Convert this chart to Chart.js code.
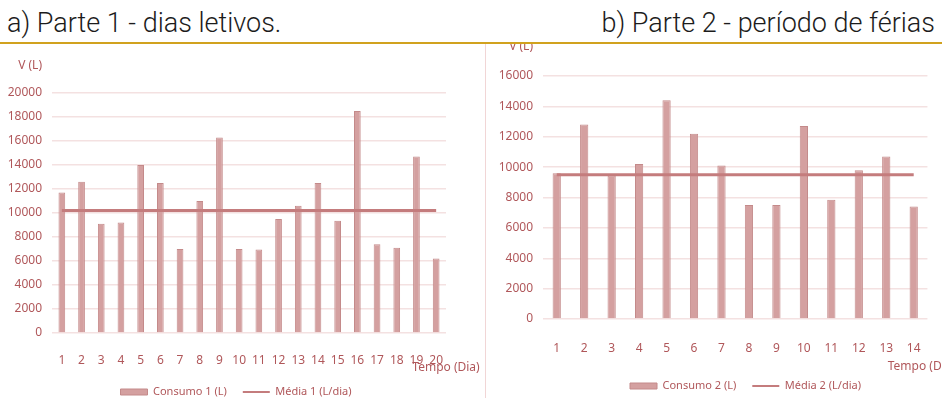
<!DOCTYPE html>
<html>
<head>
<meta charset="utf-8">
<script src="https://cdn.jsdelivr.net/npm/chart.js@4.4.1/dist/chart.umd.min.js"></script>
<style>
    html, body { margin: 0; padding: 0; background: #fff; }
    body { width: 942px; height: 398px; position: relative; overflow: hidden; }
    .titulo {
        position: absolute; top: 10px; line-height: 27px;
        font-family: Roboto, 'Liberation Sans', sans-serif;
        font-weight: 300; font-size: 27px; color: #1c1c1c; white-space: nowrap;
    }
    #regua { position: absolute; left: 0; top: 42px; width: 942px; height: 2px; background: #d1a21e; }
    .painel { position: absolute; top: 44px; height: 354px; }
    #painel1 { left: 0; width: 480px; }
    #painel2 { left: 485px; width: 457px; border-left: 1px solid #f1d6d6; }
</style>
</head>
<body>
<div class="titulo" style="left:7px">a) Parte 1 - dias letivos.</div>
<div class="titulo" style="right:7px">b) Parte 2 - período de férias</div>
<div id="regua"></div>
<div class="painel" id="painel1"><canvas id="grafico1"></canvas></div>
<div class="painel" id="painel2"><canvas id="grafico2"></canvas></div>

<script>
// Parte 1 - dias letivos (20 dias)
const dias1 = ['1','2','3','4','5','6','7','8','9','10','11','12','13','14','15','16','17','18','19','20'];
const consumo1 = [11700, 12600, 9100, 9200, 14000, 12500, 7000, 11000, 16300, 7000,
                  6950, 9500, 10600, 12500, 9350, 18500, 7400, 7100, 14700, 6200];
const media1 = [10200, 10200, 10200, 10200, 10200, 10200, 10200, 10200, 10200, 10200,
                10200, 10200, 10200, 10200, 10200, 10200, 10200, 10200, 10200, 10200];

// Parte 2 - periodo de ferias (14 dias)
const dias2 = ['1','2','3','4','5','6','7','8','9','10','11','12','13','14'];
const consumo2 = [9600, 12800, 9450, 10200, 14400, 12200, 10100, 7500, 7500, 12700, 7850, 9800, 10700, 7400];
const media2 = [9500, 9500, 9500, 9500, 9500, 9500, 9500, 9500, 9500, 9500, 9500, 9500, 9500, 9500];

const COR_BARRA = '#d4a0a0';
const COR_BORDA = '#c48a8a';
const COR_MEDIA = '#c47c7d';
const COR_TEXTO = '#b0575a';
const COR_GRADE = '#f4e1e1';
const FONTE = "'Noto Sans', sans-serif";

// draws the "V (L)" and "Tempo (Dia)" labels next to the axes,
// and nudges the legend sideways (Excel didn't center it on the canvas)
const rotulosEixos = {
    id: 'rotulosEixos',
    afterLayout(chart, args, opts) {
        chart.legend.left += opts.legendaDx;
        chart.legend.right += opts.legendaDx;
    },
    afterDraw(chart, args, opts) {
        const ctx = chart.ctx;
        const area = chart.chartArea;
        const y = chart.scales.y;
        ctx.save();
        ctx.font = '12px ' + FONTE;
        ctx.fillStyle = COR_TEXTO;
        ctx.textBaseline = 'middle';
        ctx.textAlign = 'right';
        ctx.fillText('V (L)', y.right - opts.yRecuo, area.top - opts.yAcima);
        ctx.textAlign = 'center';
        ctx.fillText('Tempo (Dia)', area.right + opts.xDesvio, area.bottom + opts.xAbaixo);
        ctx.restore();
    }
};

function criarGrafico(id, dias, consumo, media, nomes, caixa) {
    const ctx = document.getElementById(id).getContext('2d');
    const chart = new Chart(ctx, {
        type: 'bar',
        data: {
            labels: dias,
            datasets: [{
                label: nomes[0],
                data: consumo,
                backgroundColor: COR_BARRA,
                borderColor: COR_BORDA,
                borderWidth: 1,
                categoryPercentage: 1,
                barPercentage: caixa.barra,
                pointStyle: 'rect',
                order: 2
            }, {
                type: 'line',
                label: nomes[1],
                data: media,
                borderColor: COR_MEDIA,
                borderWidth: 3,
                pointRadius: 0,
                pointStyle: 'line',
                pointBorderColor: COR_MEDIA,
                pointBorderWidth: 2,
                backgroundColor: COR_MEDIA,
                order: 1   // mean line drawn over the bars
            }]
        },
        options: {
            responsive: true,
            maintainAspectRatio: false,
            animation: false,
            layout: { padding: { left: 0, right: caixa.direita, top: caixa.topo, bottom: 0 } },
            plugins: {
                legend: {
                    position: 'bottom',
                    labels: {
                        usePointStyle: true,
                        pointStyleWidth: 27,
                        boxHeight: 6,
                        padding: 16,
                        color: COR_TEXTO,
                        font: { family: FONTE, size: 11 },
                        sort: (a, b) => a.datasetIndex - b.datasetIndex
                    }
                },
                tooltip: { enabled: false },
                rotulosEixos: caixa.rotulos
            },
            scales: {
                x: {
                    grid: { display: false, drawTicks: false },
                    border: { display: false },
                    ticks: { color: COR_TEXTO, padding: caixa.xPad, maxRotation: 0, autoSkip: false,
                             font: { family: FONTE, size: 12 } },
                    afterFit: (scale) => { scale.height = scale.chart.$alturaX || 40; }
                },
                y: {
                    min: 0,
                    max: caixa.max,
                    grid: { color: COR_GRADE, lineWidth: 1.5, drawTicks: false },
                    border: { display: false },
                    ticks: { stepSize: 2000, color: COR_TEXTO, padding: 10,
                             font: { family: FONTE, size: 12 },
                             callback: (v) => String(v) },
                    afterFit: (scale) => { scale.width = caixa.largY; }
                }
            }
        },
        plugins: [rotulosEixos]
    });

    // place the x axis and legend so the plot area ends where the reference's does
    const alturaLegenda = chart.legend.height;
    const topoLegenda = caixa.legendaY - alturaLegenda / 2;
    chart.options.layout.padding.bottom = chart.height - topoLegenda - alturaLegenda;
    chart.$alturaX = topoLegenda - caixa.base;
    chart.update('none');
    return chart;
}

criarGrafico('grafico1', dias1, consumo1, media1, ['Consumo 1 (L)', 'Média 1 (L/dia)'], {
    max: 20000, largY: 52, direita: 34, topo: 49, base: 289, legendaY: 345, barra: 0.34, xPad: 20,
    rotulos: { yRecuo: 10, yAcima: 27, xDesvio: 0, xAbaixo: 35, legendaDx: 13 }
});
criarGrafico('grafico2', dias2, consumo2, media2, ['Consumo 2 (L)', 'Média 2 (L/dia)'], {
    max: 16000, largY: 57, direita: 12, topo: 32, base: 275, legendaY: 339, barra: 0.3, xPad: 22,
    rotulos: { yRecuo: 10, yAcima: 29, xDesvio: -6, xAbaixo: 48, legendaDx: 37 }
});
</script>
</body>
</html>
